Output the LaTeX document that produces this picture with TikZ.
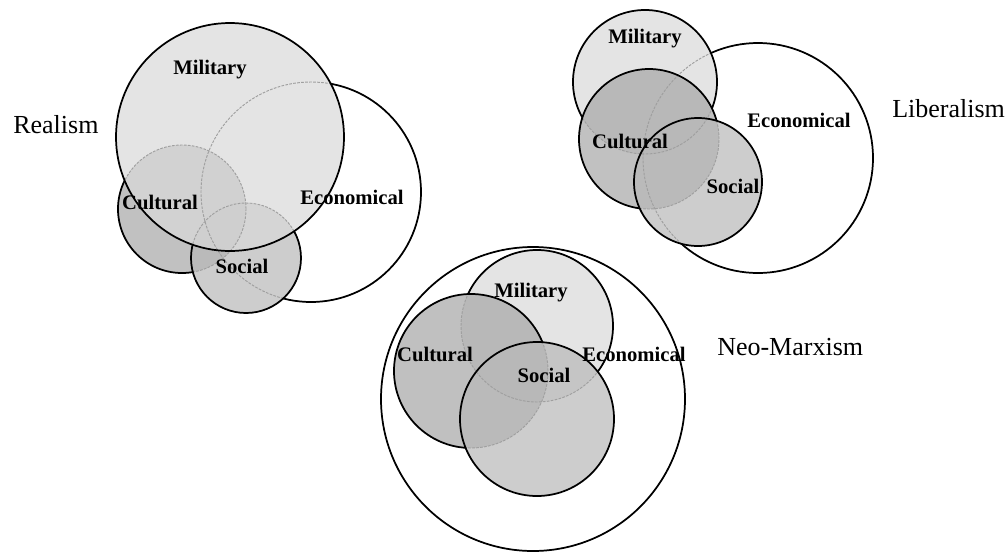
\documentclass[tikz,border=0pt]{standalone}
\usepackage{fontspec}
\setmainfont{Liberation Serif}
\newcommand{\pxu}{0.75pt}
\newcommand{\clipout}[2]{\clip (-20,-20) rectangle (1030,580) (#1) circle[radius=#2*\pxu];}
\tikzset{rim/.style={draw=black,line width=1.3pt},
  hidden/.style={draw=gray!75,line width=0.7pt,dash pattern=on 2pt off 1pt},
  milfill/.style={fill=gray!30,fill opacity=0.7},
  culfill/.style={fill=gray!70,fill opacity=0.7},
  socfill/.style={fill=gray!56,fill opacity=0.7},
  ecofill/.style={fill=white},
  lab/.style={font=\fontsize{15.5}{18}\selectfont\bfseries,inner sep=0pt,anchor=base},
  title/.style={font=\fontsize{19.5}{23}\selectfont,anchor=base west,inner sep=0pt}}
\begin{document}
\begin{tikzpicture}[x=0.75pt,y=-0.75pt]
    \useasboundingbox (0,0) rectangle (1008,554);

    % Realism
    \coordinate (rEco) at (311,192);
    \coordinate (rCul) at (182,209);
    \coordinate (rSoc) at (246,258);
    \coordinate (rMil) at (230,137);
    \fill[ecofill] (rEco) circle[radius=110*\pxu];
    \fill[culfill] (rCul) circle[radius=64*\pxu];
    \fill[socfill] (rSoc) circle[radius=55*\pxu];
    \fill[milfill] (rMil) circle[radius=114*\pxu];
    \foreach \c/\r in {rEco/110,rCul/64,rSoc/55}
        \draw[hidden] (\c) circle[radius=\r*\pxu];
    \draw[rim] (rMil) circle[radius=114*\pxu];
    \begin{scope}[even odd rule]
        \clipout{rMil}{114}
        \draw[rim] (rSoc) circle[radius=55*\pxu];
        \clipout{rSoc}{55}
        \draw[rim] (rCul) circle[radius=64*\pxu];
        \clipout{rCul}{64}
        \draw[rim] (rEco) circle[radius=110*\pxu];
    \end{scope}
    \node[lab] (rMilLab) at (210,74) {Military};
    \node[lab] (rCulLab) at (160,209) {Cultural};
    \node[lab] (rEcoLab) at (352,204) {Economical};
    \node[lab] (rSocLab) at (242,273) {Social};
    \node[title] (realism) at (13,133) {Realism};

    % Liberalism
    \coordinate (lEco) at (758,158);
    \coordinate (lMil) at (645,82);
    \coordinate (lCul) at (649,139);
    \coordinate (lSoc) at (698,182);
    \fill[ecofill] (lEco) circle[radius=115*\pxu];
    \fill[milfill] (lMil) circle[radius=72*\pxu];
    \fill[culfill] (lCul) circle[radius=70*\pxu];
    \fill[socfill] (lSoc) circle[radius=64*\pxu];
    \foreach \c/\r in {lEco/115,lMil/72,lCul/70}
        \draw[hidden] (\c) circle[radius=\r*\pxu];
    \draw[rim] (lSoc) circle[radius=64*\pxu];
    \begin{scope}[even odd rule]
        \clipout{lSoc}{64}
        \draw[rim] (lCul) circle[radius=70*\pxu];
        \clipout{lCul}{70}
        \draw[rim] (lMil) circle[radius=72*\pxu];
        \clipout{lMil}{72}
        \draw[rim] (lEco) circle[radius=115*\pxu];
    \end{scope}
    \node[lab] (lMilLab) at (645,43) {Military};
    \node[lab] (lCulLab) at (630,148) {Cultural};
    \node[lab] (lEcoLab) at (799,127) {Economical};
    \node[lab] (lSocLab) at (733,193) {Social};
    \node[title] (liberalism) at (892,117) {Liberalism};

    % Neo-Marxism
    \coordinate (nEco) at (533,399);
    \coordinate (nMil) at (537,326);
    \coordinate (nCul) at (471,371);
    \coordinate (nSoc) at (537,419);
    \fill[ecofill] (nEco) circle[radius=152*\pxu];
    \fill[milfill] (nMil) circle[radius=76*\pxu];
    \fill[culfill] (nCul) circle[radius=77*\pxu];
    \fill[socfill] (nSoc) circle[radius=77*\pxu];
    \foreach \c/\r in {nEco/152,nMil/76,nCul/77}
        \draw[hidden] (\c) circle[radius=\r*\pxu];
    \draw[rim] (nSoc) circle[radius=77*\pxu];
    \begin{scope}[even odd rule]
        \clipout{nSoc}{77}
        \draw[rim] (nCul) circle[radius=77*\pxu];
        \clipout{nCul}{77}
        \draw[rim] (nMil) circle[radius=76*\pxu];
        \clipout{nMil}{76}
        \draw[rim] (nEco) circle[radius=152*\pxu];
    \end{scope}
    \node[lab] (nMilLab) at (531,297) {Military};
    \node[lab] (nCulLab) at (435,361) {Cultural};
    \node[lab] (nEcoLab) at (634,361) {Economical};
    \node[lab] (nSocLab) at (544,382) {Social};
    \node[title] (neomarxism) at (717,355) {Neo-Marxism};
\end{tikzpicture}
\end{document}
